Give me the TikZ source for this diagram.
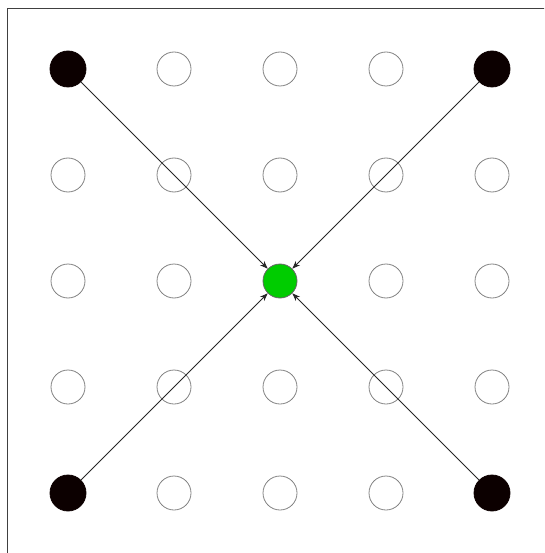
\documentclass[tikz,border=0pt]{standalone}
\usetikzlibrary{arrows.meta}
\definecolor{hubgreen}{RGB}{0,204,0}
\definecolor{ringgray}{RGB}{130,130,130}
\definecolor{srcblack}{RGB}{12,0,0}
\tikzset{
  ring/.style={circle, draw=ringgray, line width=0.8pt, minimum size=34pt, inner sep=0pt},
  src/.style={ring, draw=srcblack, fill=srcblack, minimum size=36pt},
  hub/.style={ring, draw=black!60, fill=hubgreen},
  feed/.style={-{Stealth[length=8pt,width=6pt]}, line width=0.9pt, draw=black!85},
}
\begin{document}
\begin{tikzpicture}[x=1pt,y=-1pt]
      \useasboundingbox (0,0) rectangle (544,553);
      \clip (0,0) rectangle (544,553);
      \draw[line width=1.3pt, black!75] (7.5,8.5) rectangle (600,600);

      % GRID
      \foreach \c in {0,...,4}
        \foreach \r in {0,...,4} {
          \def\sty{ring}
          \pgfmathtruncatemacro\iscorner{and(or(\c==0,\c==4),or(\r==0,\r==4))}
          \ifnum\iscorner=1 \def\sty{src}\fi
          \ifnum\c\r=22 \def\sty{hub}\fi
          \node[\sty] (n\c\r) at (68+106*\c, 69+106*\r) {};
        }

      % ARROWS
      \foreach \s in {n00,n40,n04,n44}
        \draw[feed] (\s) -- (n22);
\end{tikzpicture}
\end{document}
